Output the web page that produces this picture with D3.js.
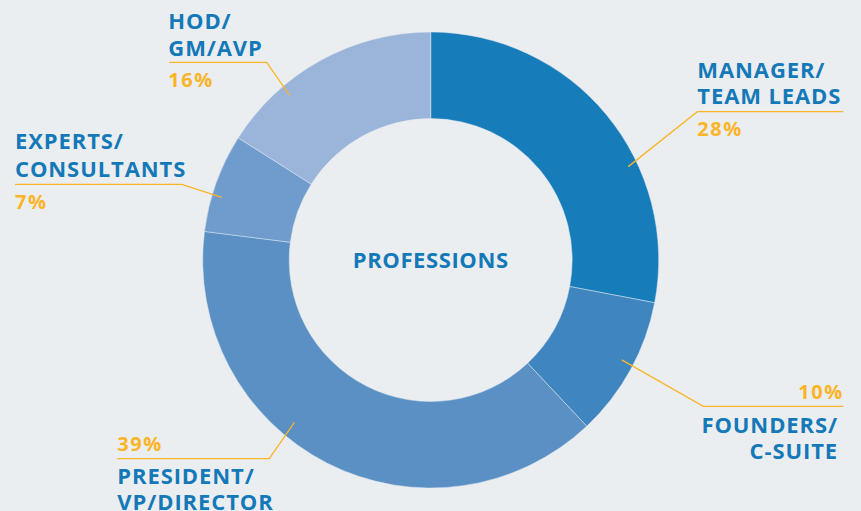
<!DOCTYPE html>
<html>
<head>
<meta charset="utf-8">
<script src="https://cdn.jsdelivr.net/npm/d3@7"></script>
<style>
  html, body { margin: 0; padding: 0; background: #ebeef0; }
  svg { display: block; }
</style>
</head>
<body>
<svg id="chart" width="861" height="511"></svg>
<script>
// ---- data ----
const categories = ["MANAGER/\nTEAM LEADS", "FOUNDERS/\nC-SUITE", "PRESIDENT/\nVP/DIRECTOR", "EXPERTS/\nCONSULTANTS", "HOD/\nGM/AVP"];
const values = [28, 10, 39, 7, 16];
const percentLabels = ["28%", "10%", "39%", "7%", "16%"];
const centerTitle = "PROFESSIONS";

// ---- styles / layout (kept separate from data) ----
const sliceColors = ["#167cba", "#3f86c0", "#5b90c5", "#6f9ccc", "#9bb5da"];
const textBlue = "#1479b8";
const yellow = "#fbb428";
const bg = "#ebeef0";

const W = 861, H = 511;
const cx = 430.7, cy = 260;
const rOuter = 228, rInner = 141.5;

// label layout: leader start (angle deg clockwise from top, radius), elbow, line end, text anchor
const layout = [
  { a: 64.7, r: 218.5, elbow: [697.3, 111.7], end: 843.3, anchor: "start", tx: 697.3, nameY: [77.7, 104], pctY: 136 },
  { a: 117.6, r: 215.6, elbow: [703.3, 406.3], end: 843.3, anchor: "end", tx: 838, nameY: [432.7, 459], pctY: 399.3 },
  { a: 220, r: 212, elbow: [269.3, 458.7], end: 117.3, anchor: "start", tx: 117.3, nameY: [484, 509.5], pctY: 451.3 },
  { a: 286.7, r: 218, elbow: [181.7, 184.3], end: 15, anchor: "start", tx: 15, nameY: [149.3, 176.7], pctY: 209 },
  { a: 319.4, r: 217, elbow: [266.7, 62.3], end: 169, anchor: "start", tx: 168.3, nameY: [29.3, 55.7], pctY: 86.5 }
];

const svg = d3.select("#chart");
svg.append("rect").attr("width", W).attr("height", H).attr("fill", bg);

const pie = d3.pie().sort(null).value(d => d)(values);
const arc = d3.arc().innerRadius(rInner).outerRadius(rOuter);

const g = svg.append("g").attr("transform", `translate(${cx},${cy})`);
g.selectAll("path.slice")
  .data(pie)
  .join("path")
  .attr("class", "slice")
  .attr("d", arc)
  .attr("fill", (d, i) => sliceColors[i])
  .attr("stroke", "#dfe6ee")
  .attr("stroke-width", 0.5);

// center title
svg.append("text")
  .attr("x", cx)
  .attr("y", 268.3)
  .attr("text-anchor", "middle")
  .attr("font-family", "'Open Sans', sans-serif")
  .attr("font-weight", 700)
  .attr("font-size", 22)
  .attr("letter-spacing", 0.6)
  .attr("fill", textBlue)
  .text(centerTitle);

// leader lines + labels
const labelFont = "'Open Sans', sans-serif";
pie.forEach((p, i) => {
  const L = layout[i];
  const ang = L.a * Math.PI / 180;
  const sx = cx + L.r * Math.sin(ang);
  const sy = cy - L.r * Math.cos(ang);
  svg.append("polyline")
    .attr("points", `${sx},${sy} ${L.elbow[0]},${L.elbow[1]} ${L.end},${L.elbow[1]}`)
    .attr("fill", "none")
    .attr("stroke", yellow)
    .attr("stroke-width", 1.3);

  const lines = categories[i].split("\n");
  lines.forEach((t, j) => {
    svg.append("text")
      .attr("x", L.tx)
      .attr("y", L.nameY[j])
      .attr("text-anchor", L.anchor)
      .attr("font-family", labelFont)
      .attr("font-weight", 700)
      .attr("font-size", 22)
      .attr("letter-spacing", 0.9)
      .attr("fill", textBlue)
      .text(t);
  });
  svg.append("text")
    .attr("x", L.anchor === "end" ? 844 : L.tx)
    .attr("y", L.pctY)
    .attr("text-anchor", L.anchor)
    .attr("font-family", labelFont)
    .attr("font-weight", 700)
    .attr("font-size", 20)
    .attr("letter-spacing", 1.6)
    .attr("fill", yellow)
    .text(percentLabels[i]);
});
</script>
</body>
</html>
